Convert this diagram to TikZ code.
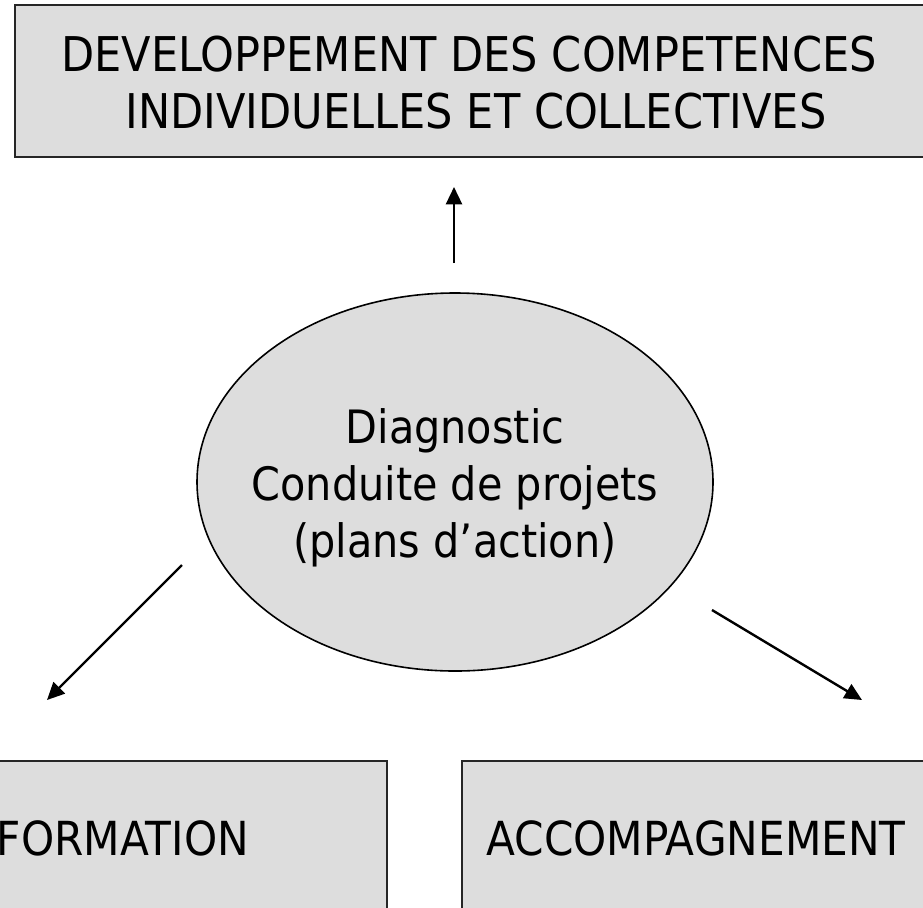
\documentclass[tikz,border=0pt]{standalone}
\usepackage{fontspec}
\setmainfont{DejaVu Sans}[FakeStretch=0.9]
\usetikzlibrary{arrows.meta,shapes.geometric}
\definecolor{boxfill}{RGB}{221,221,221}
\begin{document}
\begin{tikzpicture}[x=0.75pt,y=-0.75pt,
  box/.style={draw=black!85,line width=1.5pt,fill=boxfill,rectangle,inner sep=0pt},
  oval/.style={draw=black,line width=1.2pt,fill=boxfill,ellipse,inner sep=0pt},
  txt/.style={anchor=base,inner sep=0pt,font=\fontsize{34.5pt}{42pt}\selectfont},
  bigtxt/.style={txt,font=\fontsize{35.9pt}{42pt}\selectfont},
  midtxt/.style={txt,font=\fontsize{35.2pt}{42pt}\selectfont},
  arr/.style={line width=1.8pt,-{Triangle[length=13pt,width=12pt]}}]
\useasboundingbox (0,0) rectangle (923,907);
\clip (0,0) rectangle (923,907);
% shapes
\node[box,minimum width=915*0.75pt,minimum height=152*0.75pt] (top) at (472.5,81) {};
\node[oval,minimum width=516*0.75pt,minimum height=378*0.75pt] (diag) at (455,482) {};
\node[box,minimum width=530*0.75pt,minimum height=200*0.75pt] (form) at (122,861) {};
\node[box,minimum width=468*0.75pt,minimum height=200*0.75pt] (acc) at (696,861) {};
% texts
\node[bigtxt] (t1) at (469,71) {DEVELOPPEMENT DES COMPETENCES};
\node[bigtxt] (t2) at (476,128) {INDIVIDUELLES ET COLLECTIVES};
\node[txt] (d1) at (455,443) {Diagnostic};
\node[txt] (d2) at (455,500) {Conduite de projets};
\node[txt] (d3) at (455,557) {(plans d’action)};
\node[midtxt] (f1) at (123,855) {FORMATION};
\node[midtxt] (a1) at (696,855) {ACCOMPAGNEMENT};
% connector ends
\coordinate (upS) at (454,263);
\coordinate (upE) at (454,187);
\coordinate (lS) at (182,565);
\coordinate (lE) at (47,700);
\coordinate (rS) at (712,610);
\coordinate (rE) at (862,700);
\draw[arr] (upS) -- (upE);
\draw[arr] (lS) -- (lE);
\draw[arr] (rS) -- (rE);
\end{tikzpicture}
\end{document}
